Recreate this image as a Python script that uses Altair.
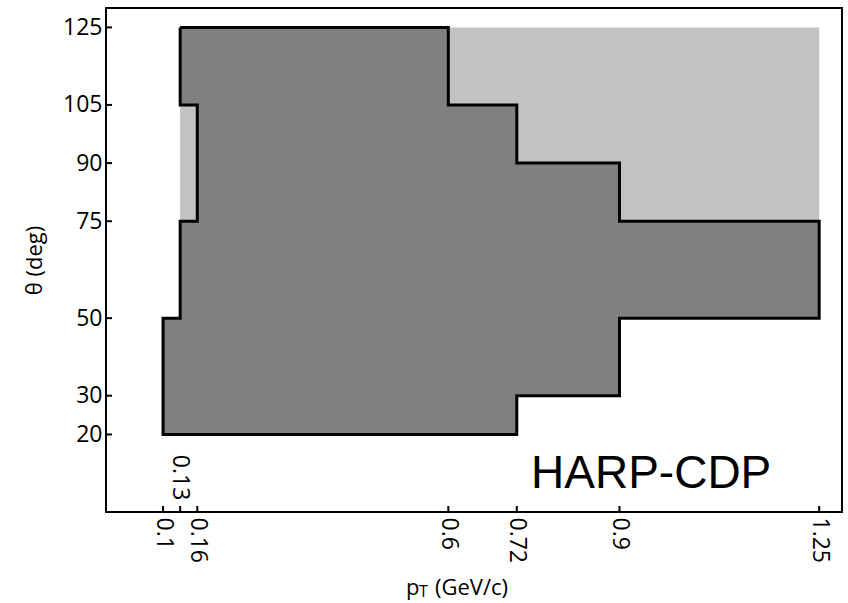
import altair as alt
import pandas as pd

# Outline of the measured region (pT in GeV/c, theta in degrees), drawn in order
poly_pt = [0.13, 0.6, 0.6, 0.72, 0.72, 0.9, 0.9, 1.25, 1.25, 0.9, 0.9, 0.72, 0.72,
           0.1, 0.1, 0.13, 0.13, 0.16, 0.16, 0.13, 0.13]
poly_theta = [125, 125, 105, 105, 90, 90, 75, 75, 50, 50, 30, 30, 20,
              20, 50, 50, 75, 75, 105, 105, 125]

# Light (hatched) background region
light_pt = [0.13, 1.25]
light_theta = [75, 125]

x_ticks = [0.1, 0.13, 0.16, 0.6, 0.72, 0.9, 1.25]
x_labels = [0.1, 0.16, 0.6, 0.72, 0.9, 1.25]
y_ticks = [20, 30, 50, 75, 90, 105, 125]

label_text = "HARP-CDP"

FONT = "Open Sans"
LSIZE = 23
TSIZE = 22

poly_df = pd.DataFrame({"pt": poly_pt, "theta": poly_theta, "order": list(range(len(poly_pt)))})
light_df = pd.DataFrame({"x": [light_pt[0]], "x2": [light_pt[1]],
                         "y": [light_theta[0]], "y2": [light_theta[1]]})
xt_df = pd.DataFrame({"v": x_ticks})
yt_df = pd.DataFrame({"v": y_ticks})

xscale = alt.Scale(domain=[0, 1.29], nice=False, zero=False)
yscale = alt.Scale(domain=[0, 130], nice=False, zero=False)

xaxis = alt.Axis(values=x_labels, labelAngle=90, labelAlign="left", labelBaseline="middle",
                 format=".2~f", title=None)
yaxis = alt.Axis(values=y_ticks, title="θ (deg)")

light = alt.Chart(light_df).mark_rect(fill="#c2c2c2", stroke=None).encode(
    x=alt.X("x:Q", scale=xscale, axis=xaxis),
    x2="x2:Q",
    y=alt.Y("y:Q", scale=yscale, axis=yaxis),
    y2="y2:Q",
)

poly = alt.Chart(poly_df).mark_line(fill="#808080", stroke="black", strokeWidth=3,
                                    strokeJoin="miter").encode(
    x=alt.X("pt:Q", scale=xscale, axis=xaxis),
    y=alt.Y("theta:Q", scale=yscale, axis=yaxis),
    order="order:Q",
)

xticks = alt.Chart(xt_df).mark_rule(color="black", strokeWidth=2).encode(
    x=alt.X("v:Q", scale=xscale, axis=xaxis),
    y=alt.datum(0),
    y2=alt.datum(1.55),
)
yticks = alt.Chart(yt_df).mark_rule(color="black", strokeWidth=2).encode(
    y=alt.Y("v:Q", scale=yscale, axis=yaxis),
    x=alt.datum(0),
    x2=alt.datum(0.0105),
)

lbl013 = alt.Chart(pd.DataFrame({"x": [0.13], "y": [3.0], "t": ["0.13"]})).mark_text(
    angle=90, align="right", baseline="middle", font=FONT, fontSize=LSIZE, color="black"
).encode(x=alt.X("x:Q", scale=xscale, axis=xaxis), y=alt.Y("y:Q", scale=yscale, axis=yaxis),
         text="t:N")

harp = alt.Chart(pd.DataFrame({"x": [0.745], "y": [6.2], "t": [label_text]})).mark_text(
    align="left", baseline="alphabetic", font="Liberation Sans", fontSize=46, color="black"
).encode(x=alt.X("x:Q", scale=xscale, axis=xaxis), y=alt.Y("y:Q", scale=yscale, axis=yaxis),
         text="t:N")

# x-axis title with subscript
t_p = alt.Chart(pd.DataFrame({"t": ["p"]})).mark_text(
    align="left", baseline="alphabetic", font=FONT, fontSize=TSIZE, color="black"
).encode(x=alt.value(300), y=alt.value(587), text="t:N")
t_T = alt.Chart(pd.DataFrame({"t": ["T"]})).mark_text(
    align="left", baseline="alphabetic", font=FONT, fontSize=16, color="black"
).encode(x=alt.value(313), y=alt.value(589), text="t:N")
t_rest = alt.Chart(pd.DataFrame({"t": ["(GeV/c)"]})).mark_text(
    align="left", baseline="alphabetic", font=FONT, fontSize=TSIZE, color="black"
).encode(x=alt.value(329), y=alt.value(587), text="t:N")

chart = alt.layer(light, poly, xticks, yticks, lbl013, harp, t_p, t_T, t_rest).properties(
    width=736, height=504,
    autosize=alt.AutoSizeParams(type="none"),
    padding={"left": 106, "top": 8, "right": 6, "bottom": 91},
    background="white",
).configure_view(stroke="black", strokeWidth=2).configure_axis(
    labelFont=FONT, labelFontSize=LSIZE, labelColor="black", labelPadding=4,
    ticks=False, tickSize=0, domain=False, grid=False, labelOverlap=False,
    titleFont=FONT, titleFontSize=TSIZE, titleFontWeight="normal", titleColor="black",
    titlePadding=16,
).configure_axisX(labelPadding=5)

chart.save("out.html", embed_options={"renderer": "svg", "actions": False})
